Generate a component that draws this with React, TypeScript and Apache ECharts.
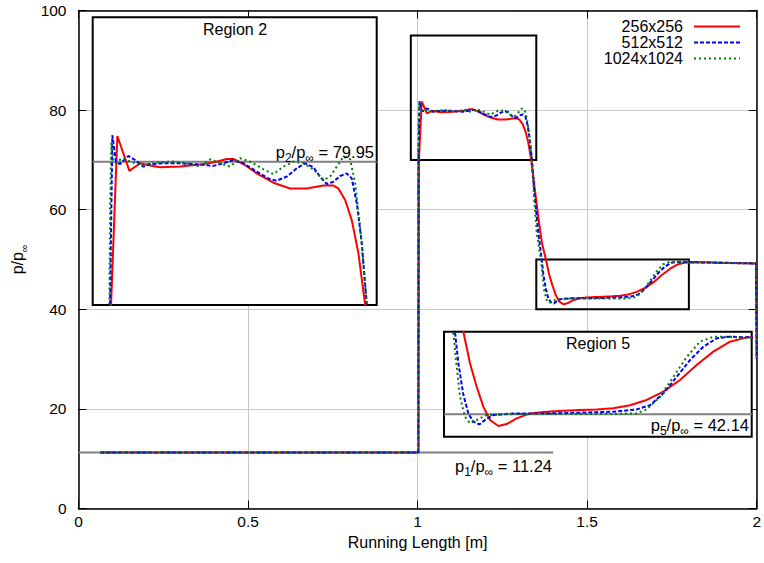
import React, { useEffect, useRef } from "react";
import * as echarts from "echarts";

const FONT = "'Liberation Sans', Arial, Helvetica, sans-serif";

// Series names (legend)
const resolutions = ["256x256", "512x512", "1024x1024"];

// Pressure ratio p/p_inf versus running length [m]
const pressure256: number[][] = [
  [0.064, 11.24], [1.003, 11.24], [1.0039, 70], [1.0121, 81.75], [1.0278, 79.32], [1.0417, 79.85],
  [1.055, 79.7], [1.0677, 79.57], [1.0937, 79.62], [1.1198, 79.76], [1.1372, 79.9], [1.1546, 80.15],
  [1.1633, 80.15], [1.1763, 79.8], [1.1937, 79.15], [1.2154, 78.5], [1.2371, 78.1], [1.2588, 78.1],
  [1.2806, 78.3], [1.2936, 78.3], [1.3, 78.1], [1.3089, 77.3], [1.3175, 75.9], [1.3262, 73.6],
  [1.335, 70.0], [1.345, 64.5], [1.356, 58.5], [1.367, 53.2], [1.3783, 50.0], [1.388, 47.0],
  [1.3978, 44.76], [1.4075, 42.86], [1.4173, 41.59], [1.4295, 41.02], [1.4417, 41.2], [1.4563, 41.75],
  [1.4758, 42.22], [1.5, 42.38], [1.5245, 42.48], [1.5489, 42.54], [1.5733, 42.6], [1.5977, 42.7],
  [1.622, 43.0], [1.6464, 43.5], [1.6708, 44.29], [1.6952, 45.4], [1.7195, 46.83], [1.7439, 48.1],
  [1.7683, 49.05], [1.7927, 49.46], [1.81, 49.5], [1.9, 49.35], [1.998, 49.2], [2.0, 30],
];
const pressure512: number[][] = [
  [0.064, 11.24], [1.002, 11.24], [1.0026, 70], [1.0056, 81.8], [1.0104, 79.97], [1.0156, 79.8],
  [1.0265, 80.36], [1.0352, 80.08], [1.046, 79.62], [1.0547, 79.8], [1.0721, 79.85], [1.0938, 79.85],
  [1.1155, 79.78], [1.1372, 79.67], [1.1502, 79.85], [1.1633, 80.08], [1.1763, 79.85], [1.1937, 79.27],
  [1.2111, 78.74], [1.2197, 78.64], [1.2327, 78.92], [1.2458, 79.5], [1.2567, 79.85], [1.2675, 79.57],
  [1.2762, 78.92], [1.2849, 78.41], [1.2936, 78.57], [1.3023, 78.97], [1.311, 79.15], [1.3175, 78.8],
  [1.3241, 77.07], [1.3306, 74.29], [1.3371, 70.0], [1.345, 63], [1.355, 56], [1.366, 50],
  [1.371, 47], [1.378, 44.1], [1.3856, 42.2], [1.393, 41.43], [1.4017, 41.17], [1.41, 41.6],
  [1.4222, 42.06], [1.4514, 42.22], [1.5, 42.22], [1.5489, 42.29], [1.5977, 42.38], [1.6318, 42.6],
  [1.6513, 43.0], [1.6708, 44.13], [1.6903, 45.7], [1.7098, 47.3], [1.7293, 48.57], [1.7488, 49.37],
  [1.7683, 49.52], [1.7975, 49.46], [1.9, 49.35], [1.998, 49.2], [2.0, 30],
];
const pressure1024: number[][] = [
  [0.064, 11.24], [1.001, 11.24], [1.0017, 70], [1.0026, 76.6], [1.0043, 81.36], [1.0069, 80.08],
  [1.0104, 79.85], [1.0178, 80.2], [1.0286, 79.97], [1.0417, 79.73], [1.0634, 79.9], [1.0851, 79.97],
  [1.1025, 79.85], [1.1198, 79.62], [1.1329, 80.13], [1.1459, 79.85], [1.1589, 79.62], [1.1719, 80.2],
  [1.185, 79.97], [1.2024, 79.43], [1.2154, 79.1], [1.2284, 79.62], [1.2415, 79.97], [1.2545, 79.85],
  [1.2675, 79.43], [1.2806, 78.69], [1.2893, 78.92], [1.298, 79.62], [1.3067, 80.31], [1.3154, 80.13],
  [1.3219, 78.46], [1.3284, 75.45], [1.3371, 70.0], [1.344, 62], [1.352, 55], [1.3636, 50],
  [1.3675, 47.3], [1.3734, 43.8], [1.3807, 41.9], [1.388, 41.27], [1.3978, 41.59], [1.4124, 42.06],
  [1.4514, 42.16], [1.5, 42.16], [1.5489, 42.16], [1.5977, 42.16], [1.6318, 42.22], [1.6464, 42.6],
  [1.666, 43.8], [1.6854, 45.7], [1.705, 47.6], [1.7244, 49.05], [1.7439, 49.52], [1.7683, 49.52],
  [1.7975, 49.37], [1.9, 49.3], [1.998, 49.2], [2.0, 30],
];

// Reference pressure levels
const p1Value = 11.24;
const p1Span = [0, 1.4];
const p2Value = 79.95;
const p5Value = 42.14;

// Zoom regions
const region2X = [0.98, 1.35];
const region2BoxY = [70, 95];
const region2ZoomY = [70, 90];
const region5X = [1.35, 1.8];
const region5Y = [40, 50];

const lineStyles: any[] = [
  { color: "#ff0000", width: 2, type: "solid" },
  { color: "#0000ff", width: 2, type: [4, 2] },
  { color: "#008000", width: 2, type: [2, 3] },
];
const datasets = [pressure256, pressure512, pressure1024];

const black = { color: "#000", width: 1.5 };
const subRich = {
  m: { fontSize: 16.5, fontFamily: FONT, fill: "#000", color: "#000", lineHeight: 18, verticalAlign: "top" },
  s: { fontSize: 12, fontFamily: FONT, fill: "#000", color: "#000", lineHeight: 11, padding: [9, 0, 0, 0], verticalAlign: "top" },
};
const axisNameRich = {
  m: { fontSize: 16, fontFamily: FONT, color: "#000", lineHeight: 18, verticalAlign: "top" },
  s: { fontSize: 10.5, fontFamily: FONT, color: "#000", lineHeight: 10, padding: [9, 0, 0, 0], verticalAlign: "top" },
};
const ratioText = (i: number, v: number) => `{m|p}{s|${i}}{m|/p}{s|∞}{m| = ${v.toFixed(2)}}`;

function buildOption(): any {
  const hiddenAxis = (gridIndex: number, range: number[]) => ({
    gridIndex, type: "value", min: range[0], max: range[1], show: false,
    splitLine: { show: false }, axisLine: { show: false }, axisTick: { show: false }, axisLabel: { show: false },
  });
  const mirrorTicks = { show: true, inside: true, length: 8, lineStyle: { color: "#000", width: 1 } };

  const xAxis = [
    {
      gridIndex: 0, type: "value", min: 0, max: 2, interval: 0.5, position: "bottom",
      axisLine: { show: true, onZero: false, lineStyle: black },
      axisTick: mirrorTicks,
      axisLabel: { show: true, color: "#000", fontSize: 15.5, fontFamily: FONT, margin: 5 },
      splitLine: { show: true, lineStyle: { color: "#c8c8c8", width: 1 } },
      name: "Running Length [m]", nameLocation: "middle", nameGap: 22,
      nameTextStyle: { color: "#000", fontSize: 16, fontFamily: FONT },
    },
    {
      gridIndex: 0, type: "value", min: 0, max: 2, interval: 0.5, position: "top",
      axisLine: { show: true, onZero: false, lineStyle: black },
      axisTick: mirrorTicks, axisLabel: { show: false }, splitLine: { show: false },
    },
    hiddenAxis(1, region2X),
    hiddenAxis(2, region5X),
  ];
  const yAxis = [
    {
      gridIndex: 0, type: "value", min: 0, max: 100, interval: 20, position: "left",
      axisLine: { show: true, onZero: false, lineStyle: black },
      axisTick: mirrorTicks,
      axisLabel: { show: true, color: "#000", fontSize: 15.5, fontFamily: FONT, margin: 12 },
      splitLine: { show: true, lineStyle: { color: "#c8c8c8", width: 1 } },
      name: "{m|p/p}{s|∞}", nameLocation: "middle", nameGap: 40,
      nameTextStyle: { color: "#000", fontSize: 16, fontFamily: FONT, rich: axisNameRich },
    },
    {
      gridIndex: 0, type: "value", min: 0, max: 100, interval: 20, position: "right",
      axisLine: { show: true, onZero: false, lineStyle: black },
      axisTick: mirrorTicks, axisLabel: { show: false }, splitLine: { show: false },
    },
    hiddenAxis(1, region2ZoomY),
    hiddenAxis(2, region5Y),
  ];

  const series: any[] = [];
  // gray reference levels
  const grayLine = (xi: number, yi: number, data: number[][], z: number) => ({
    type: "line", xAxisIndex: xi, yAxisIndex: yi, data, symbol: "none", silent: true, z,
    lineStyle: { color: "#808080", width: 2 },
  });
  series.push(grayLine(0, 0, [[p1Span[0], p1Value], [p1Span[1], p1Value]], 1));
  series.push(grayLine(2, 2, [[region2X[0], p2Value], [region2X[1], p2Value]], 6));
  series.push(grayLine(3, 3, [[region5X[0], p5Value], [region5X[1], p5Value]], 6));

  const axesPairs = [[0, 0], [2, 2], [3, 3]];
  axesPairs.forEach(([xi, yi], k) => {
    datasets.forEach((d, i) => {
      const s: any = {
        name: resolutions[i], type: "line", xAxisIndex: xi, yAxisIndex: yi, data: d,
        symbol: "none", silent: true, z: k === 0 ? 2 : 7, clip: true,
        lineStyle: lineStyles[i],
      };
      if (k === 0 && i === 0) {
        s.markArea = {
          silent: true, z: 1,
          itemStyle: { color: "rgba(0,0,0,0)", borderColor: "#000", borderWidth: 2 },
          label: { show: false },
          data: [
            [{ xAxis: region2X[0], yAxis: region2BoxY[0] }, { xAxis: region2X[1], yAxis: region2BoxY[1] }],
            [{ xAxis: region5X[0], yAxis: region5Y[0] }, { xAxis: region5X[1], yAxis: region5Y[1] }],
          ],
        };
      }
      series.push(s);
    });
  });

  const legendRows = [26.5, 42.5, 58.5];
  const graphic: any[] = [];
  resolutions.forEach((name, i) => {
    graphic.push({
      type: "text", x: 683, y: legendRows[i], z: 10,
      style: { text: name, fill: "#000", fontSize: 16, fontFamily: FONT, align: "right", verticalAlign: "middle" },
    });
    const ls = lineStyles[i];
    graphic.push({
      type: "line", z: 10,
      shape: { x1: 694, y1: legendRows[i], x2: 740, y2: legendRows[i] },
      style: { stroke: ls.color, lineWidth: 2, lineDash: Array.isArray(ls.type) ? ls.type : null },
    });
  });
  graphic.push({
    type: "text", x: 235, y: 29, z: 10,
    style: { text: "Region 2", fill: "#000", fontSize: 16, fontFamily: FONT, align: "center", verticalAlign: "middle" },
  });
  graphic.push({
    type: "text", x: 598, y: 343, z: 10,
    style: { text: "Region 5", fill: "#000", fontSize: 16, fontFamily: FONT, align: "center", verticalAlign: "middle" },
  });
  graphic.push({
    type: "text", x: 374, y: 152, z: 10,
    style: { text: ratioText(2, p2Value), rich: subRich, align: "right", verticalAlign: "middle" },
  });
  graphic.push({
    type: "text", x: 749, y: 425, z: 10,
    style: { text: ratioText(5, p5Value), rich: subRich, align: "right", verticalAlign: "middle" },
  });
  graphic.push({
    type: "text", x: 552, y: 466, z: 10,
    style: { text: ratioText(1, p1Value), rich: subRich, align: "right", verticalAlign: "middle" },
  });

  return {
    animation: false,
    backgroundColor: "#fff",
    textStyle: { fontFamily: FONT },
    grid: [
      { left: 78.5, top: 10.5, width: 679.5, height: 498, show: false, z: 0 },
      { left: 92.7, top: 17.3, width: 284, height: 287.7, show: true, backgroundColor: "#fff", borderColor: "#000", borderWidth: 2, z: 5 },
      { left: 444, top: 331.7, width: 307.7, height: 105, show: true, backgroundColor: "#fff", borderColor: "#000", borderWidth: 2, z: 5 },
    ],
    xAxis,
    yAxis,
    series,
    graphic,
  };
}

export default function App() {
  const ref = useRef<HTMLDivElement>(null);
  useEffect(() => {
    const chart = echarts.init(ref.current as HTMLDivElement, null, { renderer: "svg" });
    chart.setOption(buildOption());
    return () => chart.dispose();
  }, []);
  return (
    <div
      ref={ref}
      style={{ position: "fixed", left: 0, top: 0, width: 764, height: 563, background: "#fff" }}
    />
  );
}
